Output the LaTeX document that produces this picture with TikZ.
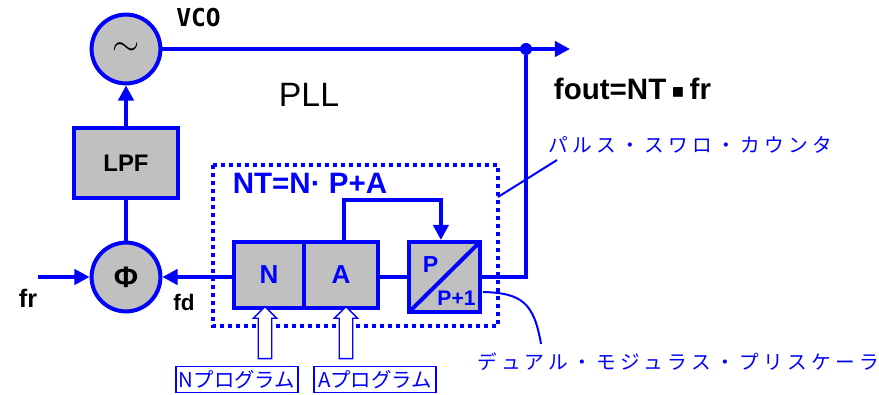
\documentclass[tikz,border=0pt]{standalone}
\usepackage{fontspec}
\setmainfont{Liberation Sans}
\newfontfamily\cjk{Noto Sans CJK JP}
\newfontfamily\cjkwide[LetterSpace=22]{Noto Sans CJK JP}
\newfontfamily\vcofont{DejaVu Sans Mono}
\newfontfamily\squarefont{DejaVu Sans}
\usetikzlibrary{arrows.meta, positioning, shapes.arrows}
\definecolor{blockgray}{RGB}{192,192,192}
% sizes are given in pixels of the reference, 1px = 0.025cm = 0.711pt
\tikzset{
	block/.style={draw=blue, fill=blockgray, line width=0.1cm, inner sep=0pt},
	round/.style={block, circle, minimum size=1.72cm},
	conn/.style={draw=blue, line width=0.1cm},
	tip/.style={-{Triangle[length=0.38cm,width=0.38cm]}},
	thin lead/.style={draw=blue, line width=0.05cm},
	prog/.style={draw=blue, fill=white, line width=0.035cm, text=blue, inner sep=0pt, minimum width=3.05cm, minimum height=0.66cm},
	hollow/.style={single arrow, draw=blue, fill=white, line width=0.035cm, rotate=90, minimum height=1.3cm, minimum width=0.58cm, text height=0.3cm, text depth=0pt, text width=0pt, single arrow head extend=0.12cm, single arrow head indent=0pt, inner sep=0pt}
}
\begin{document}
\begin{tikzpicture}[x=0.025cm, y=-0.025cm]
	\useasboundingbox (0,0) rectangle (879,394);
	%%%% swallow counter area
	\draw[blue, line width=0.09cm, dash pattern=on 0.09cm off 0.11cm] (213,165) rectangle (498,326);

	%%%% blocks
	\node[round] (vco) at (126,49) {\fontsize{40pt}{40pt}\selectfont$\sim$};
	\node[block, minimum width=2.6cm, minimum height=1.75cm, font=\bfseries\fontsize{17pt}{17pt}\selectfont] (lpf) at (126,163) {LPF};
	\node[round, font=\bfseries\fontsize{21pt}{21pt}\selectfont] (phi) at (126,277) {Φ};
	\node[block, minimum width=1.725cm, minimum height=1.65cm, text=blue, font=\bfseries\fontsize{18.5pt}{18.5pt}\selectfont] (nbox) at (269,275) {N};
	\node[block, minimum width=1.85cm, minimum height=1.65cm, text=blue, font=\bfseries\fontsize{18.5pt}{18.5pt}\selectfont] (abox) at (341,275) {A};
	\node[block, minimum width=1.775cm, minimum height=1.75cm] (pbox) at (444.5,277) {};
	\draw[blue, line width=0.1cm, shorten >=0.05cm, shorten <=0.05cm] (pbox.south west) -- (pbox.north east);
	\node[text=blue, font=\bfseries\fontsize{16.5pt}{16.5pt}\selectfont] (ptop) at (430.5,264.5) {P};
	\node[text=blue, font=\bfseries\fontsize{15pt}{15pt}\selectfont] (pbot) at (456.5,298.5) {P+1};

	%%%% connectors
	\node[fill=blue, circle, inner sep=0pt, minimum size=0.3cm] (branch) at (526,49) {};
	\coordinate (outend) at (570,49);
	\coordinate (frstart) at (38,277);
	\coordinate (corner) at (526,277);
	\draw[conn, tip] (vco.east) -- (outend);
	\draw[conn, tip] (lpf.north) -- (vco.south);
	\draw[conn] (phi.north) -- (lpf.south);
	\draw[conn, tip] (frstart) -- (phi.west);
	\draw[conn, tip] (nbox.west |- phi.east) -- (phi.east);
	\draw[conn] (abox.east |- pbox.west) -- (pbox.west);
	\draw[conn] (pbox.east) -- (corner) -- (branch);
	\draw[conn, tip] ([xshift=0.075cm]abox.north) -- ++(0,-40) -| ([xshift=-0.09cm]pbox.north);

	%%%% programs
	\node[prog, font=\cjk\fontsize{14.5pt}{14.5pt}\selectfont] (nprog) at (237,379.5) {Nプログラム};
	\node[prog, font=\cjk\fontsize{14.5pt}{14.5pt}\selectfont] (aprog) at (375,379.5) {Aプログラム};
	\node[hollow] (narrow) at (265,336) {};
	\node[hollow] (aarrow) at (346,336) {};

	%%%% texts
	\node[font=\vcofont\bfseries\fontsize{17.5pt}{17.5pt}\selectfont] (vcolbl) at (198.5,18) {VCO};
	\node[font=\fontsize{24pt}{24pt}\selectfont] (plllbl) at (309,95) {PLL};
	\node[font=\bfseries\fontsize{21pt}{21pt}\selectfont] (foutlbl) at (632.5,89) {fout=NT\kern0.17em{\squarefont\fontsize{14pt}{14pt}\selectfont\raisebox{0.1em}{▪}}\kern0.17em fr};
	\node[text=blue, font=\bfseries\fontsize{21pt}{21pt}\selectfont] (ntlbl) at (310,183) {NT=N· P+A};
	\node[font=\bfseries\fontsize{18pt}{18pt}\selectfont] (frlbl) at (28,298) {fr};
	\node[font=\bfseries\fontsize{16pt}{16pt}\selectfont] (fdlbl) at (184,302) {fd};
	\node[text=blue, anchor=west, inner sep=0pt, font=\cjkwide\fontsize{14pt}{14pt}\selectfont] (pulselbl) at (548,145) {パルス・スワロ・カウンタ};
	\node[text=blue, anchor=west, inner sep=0pt, font=\cjkwide\fontsize{14pt}{14pt}\selectfont] (duallbl) at (477,362) {デュアル・モジュラス・プリスケーラ};

	%%%% leaders
	\coordinate (pulseA) at (498,197);
	\coordinate (pulseB) at (557,160);
	\coordinate (dualA) at (483,292);
	\coordinate (dualB) at (541,344);
	\draw[thin lead] (pulseA) -- (pulseB);
	\draw[thin lead] (dualA) .. controls (522,293) and (534,303) .. (dualB);
\end{tikzpicture}
\end{document}
